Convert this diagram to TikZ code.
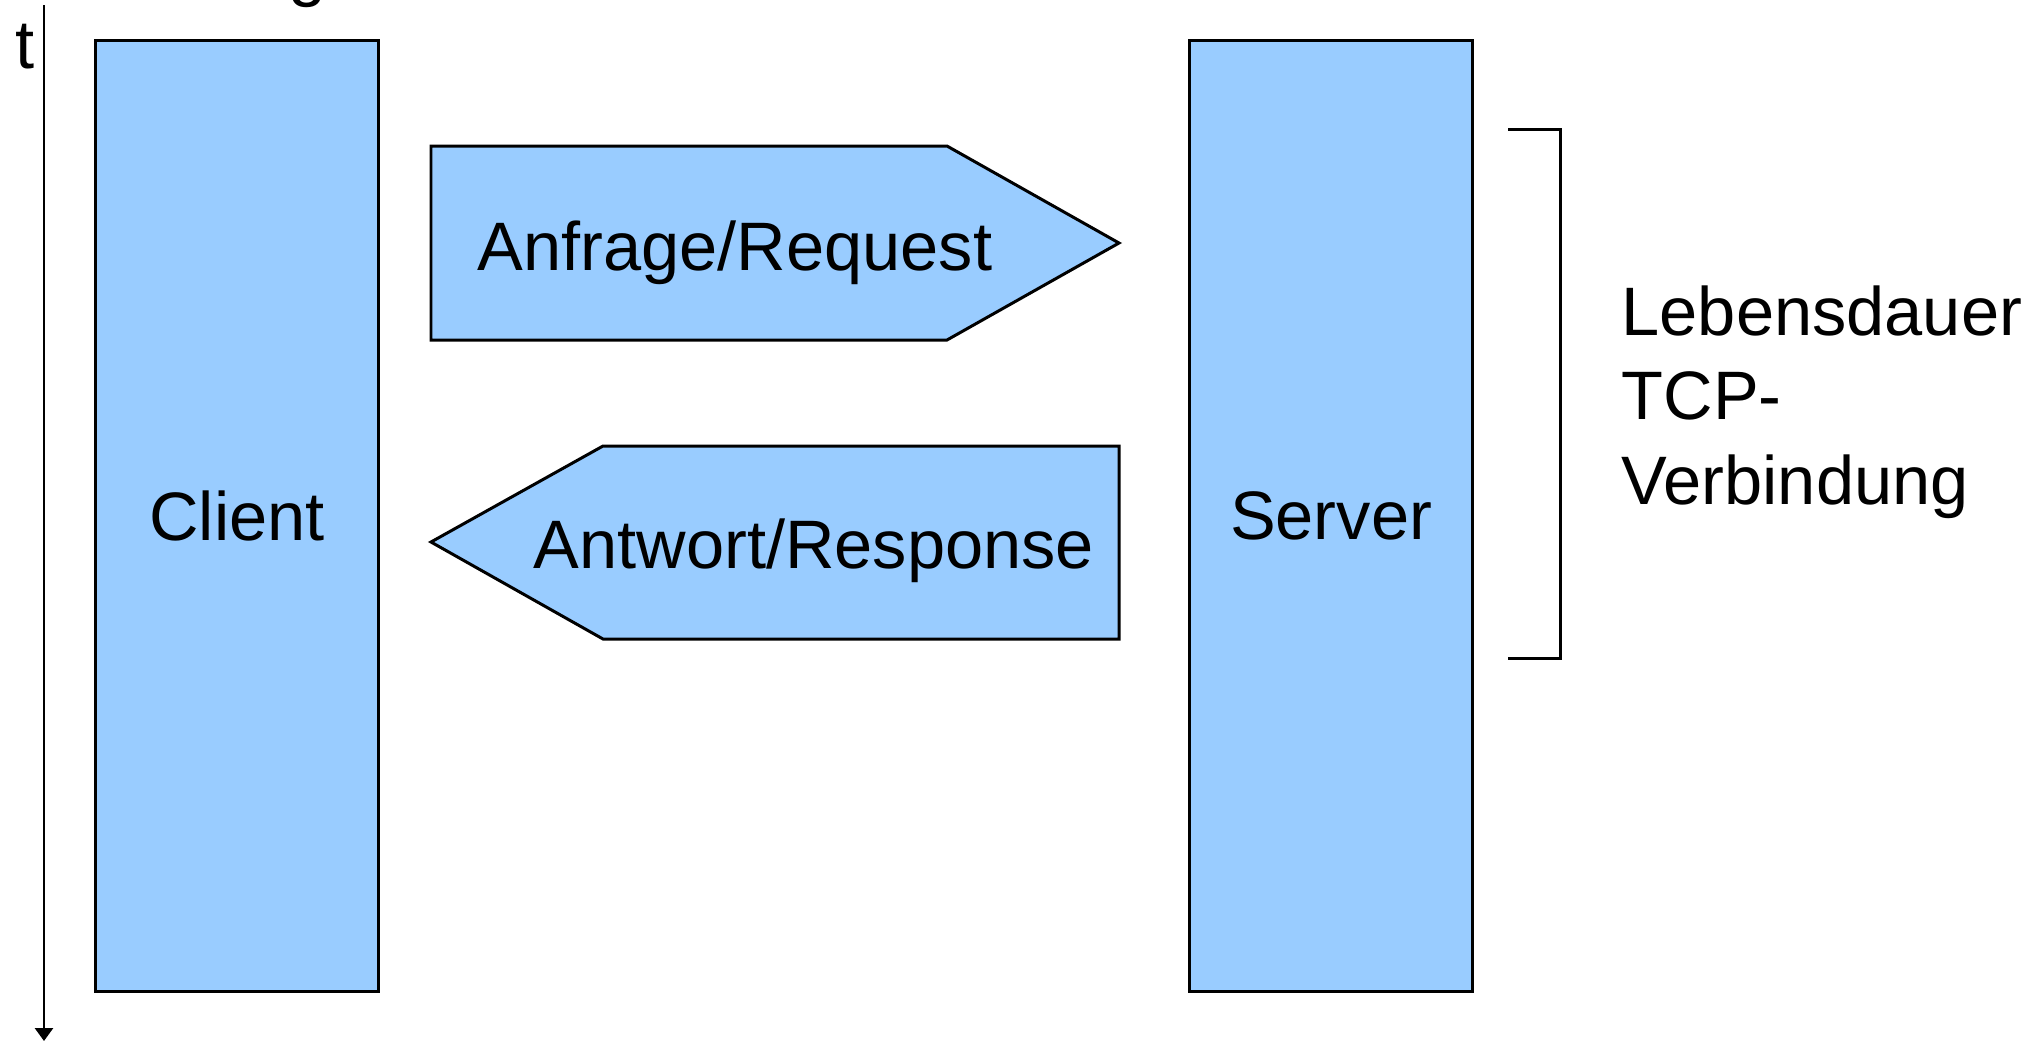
\documentclass[tikz,border=0pt]{standalone}
\usepackage{fontspec}
\setmainfont{Liberation Sans}
\usetikzlibrary{arrows.meta}
\definecolor{boxblue}{HTML}{99CCFF}

\begin{document}
\begin{tikzpicture}[
	x=0.01cm, y=-0.01cm,
	font=\fontsize{19.5}{24}\selectfont,
	box/.style={ draw, line width=0.85pt, fill=boxblue, inner sep=0pt, minimum width=2.82cm, minimum height=9.51cm },
	msg/.style={ draw, line width=0.85pt, fill=boxblue, line join=miter },
	txt/.style={ inner sep=0pt, anchor=base west },
	axis/.style={ line width=0.8pt, -{Triangle[width=0.18cm,length=0.13cm]} }
]
\useasboundingbox (0,0) rectangle (2038,1041);

\begin{scope}
\clip (0,0) rectangle (2038,1041);
\node at (288,-6.5) (cut) [txt] {g};
\end{scope}

\coordinate (tstart) at (44,5);
\coordinate (tend) at (44,1041);
\draw[axis] (tstart) -- (tend);
\node at (15,68) (t) [txt] {t};

\node at (237,516) (client) [box] {Client};
\node at (1331,516) (server) [box] {Server};

\draw[msg] (431,146) -- (947,146) -- (1119,243) -- (947,340) -- (431,340) -- cycle;
\node at (477,270) (req) [txt] {Anfrage/Request};
\draw[msg] (1119,446) -- (603,446) -- (431,542) -- (603,639) -- (1119,639) -- cycle;
\node at (533,568) (resp) [txt] {Antwort/Response};

\draw[line width=0.85pt] (1508,129) -- (1560,129) -- (1560,658) -- (1508,658);
\node at (1621,504) (life) [txt, align=left] {Lebensdauer\\TCP-\\Verbindung};

\end{tikzpicture}
\end{document}
